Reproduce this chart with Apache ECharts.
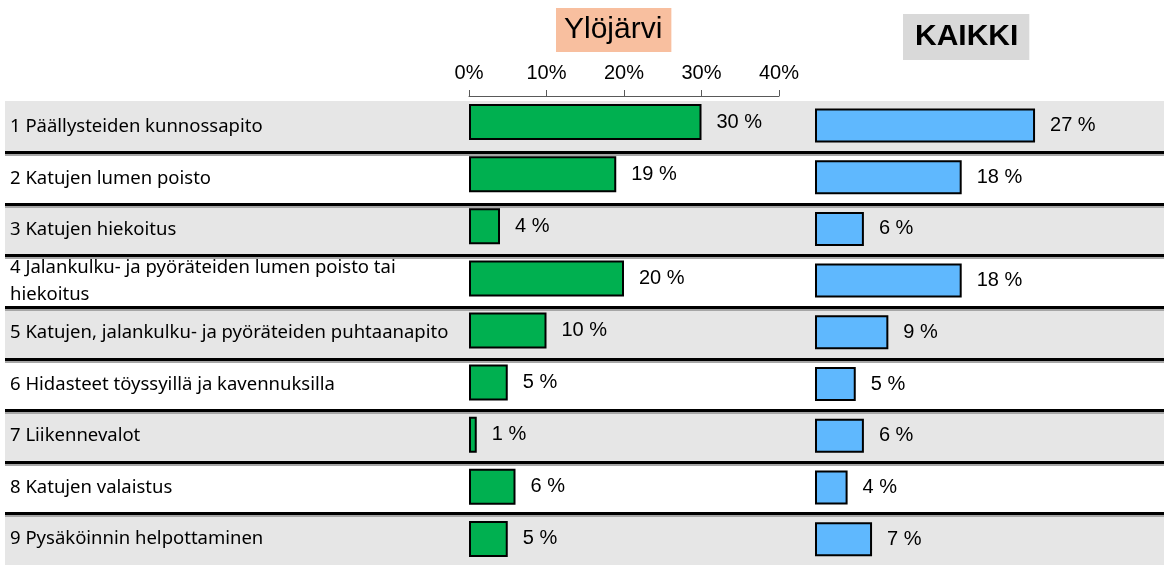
<!DOCTYPE html>
<html>
<head>
<meta charset="utf-8">
<script src="https://cdn.jsdelivr.net/npm/echarts@6/dist/echarts.min.js"></script>
<style>
  html, body { margin: 0; padding: 0; background: #fff; }
  #chart { width: 1164px; height: 565px; }
</style>
</head>
<body>
<div id="chart"></div>
<script>
// Survey topics, in the order they are listed (the long 4th one is set on two lines)
const categories = [
  '1 Päällysteiden kunnossapito',
  '2 Katujen lumen poisto',
  '3 Katujen hiekoitus',
  '4 Jalankulku- ja pyöräteiden lumen poisto tai\nhiekoitus',
  '5 Katujen, jalankulku- ja pyöräteiden puhtaanapito',
  '6 Hidasteet töyssyillä ja kavennuksilla',
  '7 Liikennevalot',
  '8 Katujen valaistus',
  '9 Pysäköinnin helpottaminen'
];

// Share of respondents (%)
const ylojarviValues = [30, 19, 4, 20, 10, 5, 1, 6, 5];
const kaikkiValues = [27, 18, 6, 18, 9, 5, 6, 4, 7];

// Percent axis of the Ylöjärvi panel
const axisTicks = [0, 10, 20, 30, 40];

const chart = echarts.init(document.getElementById('chart'));

const valueLabel = {
  show: true,
  position: 'right',
  distance: 15,
  formatter: '{c} %',
  color: '#000',
  fontFamily: 'Liberation Sans, Arial, sans-serif',
  fontSize: 20
};

chart.setOption({
  animation: false,
  title: [
    {
      text: 'Ylöjärvi',
      left: 556, top: 8,
      padding: [7, 9, 7, 8],
      backgroundColor: '#f8bf9f',
      textStyle: { fontFamily: 'Liberation Sans, Arial, sans-serif', fontSize: 30, fontWeight: 'normal', color: '#000' }
    },
    {
      text: 'KAIKKI',
      left: 903, top: 14,
      padding: [8, 11, 8, 12],
      backgroundColor: '#d9d9d9',
      textStyle: { fontFamily: 'Liberation Sans, Arial, sans-serif', fontSize: 30, fontWeight: 'bold', color: '#000' }
    }
  ],
  grid: [
    // row bands with topic names
    { left: 5, right: 0, top: 101, height: 468 },
    // Ylöjärvi bars
    { left: 469, width: 310, top: 96, height: 479 },
    // KAIKKI bars
    { left: 815, width: 326, top: 99.6, height: 467 }
  ],
  xAxis: [
    { gridIndex: 0, type: 'value', min: 0, max: 1, show: false },
    {
      gridIndex: 1, type: 'value', position: 'top',
      min: axisTicks[0], max: axisTicks[axisTicks.length - 1], interval: 10,
      axisLine: { show: true, lineStyle: { color: '#595959', width: 1 } },
      axisTick: { show: true, inside: false, length: 6, lineStyle: { color: '#595959' } },
      axisLabel: {
        formatter: '{value}%', margin: 13,
        color: '#000', fontFamily: 'Liberation Sans, Arial, sans-serif', fontSize: 20
      },
      splitLine: { show: false }
    },
    { gridIndex: 2, type: 'value', min: 0, max: 40, show: false }
  ],
  yAxis: [
    {
      gridIndex: 0, type: 'category', inverse: true, data: categories,
      axisLine: { show: false }, axisTick: { show: false },
      axisLabel: {
        inside: true, align: 'left', margin: 5,
        lineHeight: 27,
        padding: [14, 0, 0, 0],
        color: '#000', fontFamily: 'Noto Sans, sans-serif', fontSize: 18.5
      },
      splitArea: { show: true, areaStyle: { color: ['#e6e6e6', '#ffffff'] } },
      splitLine: {
        show: true, showMinLine: false, showMaxLine: false,
        lineStyle: { color: '#000', width: 3, shadowColor: '#a6a6a6', shadowOffsetY: 2, shadowBlur: 0 }
      }
    },
    { gridIndex: 1, type: 'category', inverse: true, data: categories, show: false },
    { gridIndex: 2, type: 'category', inverse: true, data: categories, show: false }
  ],
  series: [
    {
      name: 'Ylöjärvi', type: 'bar', xAxisIndex: 1, yAxisIndex: 1,
      data: ylojarviValues, barWidth: 36,
      itemStyle: { color: '#00b050', borderColor: '#000', borderWidth: 2 },
      label: valueLabel
    },
    {
      name: 'KAIKKI', type: 'bar', xAxisIndex: 2, yAxisIndex: 2,
      data: kaikkiValues, barWidth: 34,
      itemStyle: { color: '#5fb8fe', borderColor: '#000', borderWidth: 2 },
      label: valueLabel
    }
  ]
});
</script>
</body>
</html>
